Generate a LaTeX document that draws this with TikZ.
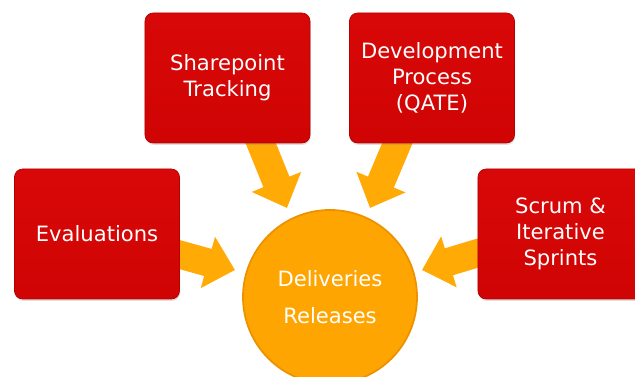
\documentclass[tikz,border=0pt]{standalone}
\usepackage{fontspec}
\setmainfont{DejaVu Sans}
\usetikzlibrary{arrows.meta,shadows,backgrounds}
\definecolor{boxred}{HTML}{D00404}
\definecolor{boxredtop}{HTML}{D80808}
\definecolor{boxedge}{HTML}{B50000}
\definecolor{delorange}{HTML}{FFA502}
\definecolor{deledge}{HTML}{EC9200}
\definecolor{arroworange}{HTML}{FFAA05}
\begin{document}
\begin{tikzpicture}[line cap=round,line join=round,x=0.03cm,y=0.03cm,
    topic/.style={rectangle, rounded corners=7pt, draw=boxedge, line width=0.6pt, top color=boxredtop, bottom color=boxred, minimum width=4.95cm, minimum height=3.9cm, text=white, align=center, font=\fontsize{18}{22}\selectfont, drop shadow={opacity=0.25,shadow xshift=0.6pt,shadow yshift=-1.6pt}},
    hub/.style={circle, fill=delorange, draw=deledge, line width=1.5pt, minimum size=5.22cm, text=white, align=center, font=\fontsize{18}{31.5}\selectfont},
    feed/.style={draw=arroworange, line width=24pt, line cap=butt, shorten <=-6pt, -{Triangle[length=24pt,width=44pt]}}]
                    \useasboundingbox (0,0) rectangle (635,377);

                    \node[topic] (spt) at (227.5,299) {Sharepoint\\Tracking};
                    \node[topic] (dev) at (432,299) {Development\\Process\\(QATE)};
                    \node[topic] (evl) at (97,143) {Evaluations};
                    \node[topic] (scr) at (560.5,143) {Scrum \&\\Iterative\\Sprints};
                    \node[hub] (del) at (330,80) {Deliveries\\Releases};

                    \coordinate (tipspt) at (287,169);
                    \coordinate (tipdev) at (370,169);
                    \coordinate (tipevl) at (235,107);
                    \coordinate (tipscr) at (422,107);

                    \begin{scope}[on background layer]
                    \draw[feed] (spt.-63) -- (tipspt);
                    \draw[feed] (dev.-118) -- (tipdev);
                    \draw[feed] (evl.-14) -- (tipevl);
                    \draw[feed] (scr.-167) -- (tipscr);
                    \end{scope}
                \end{tikzpicture}
\end{document}
